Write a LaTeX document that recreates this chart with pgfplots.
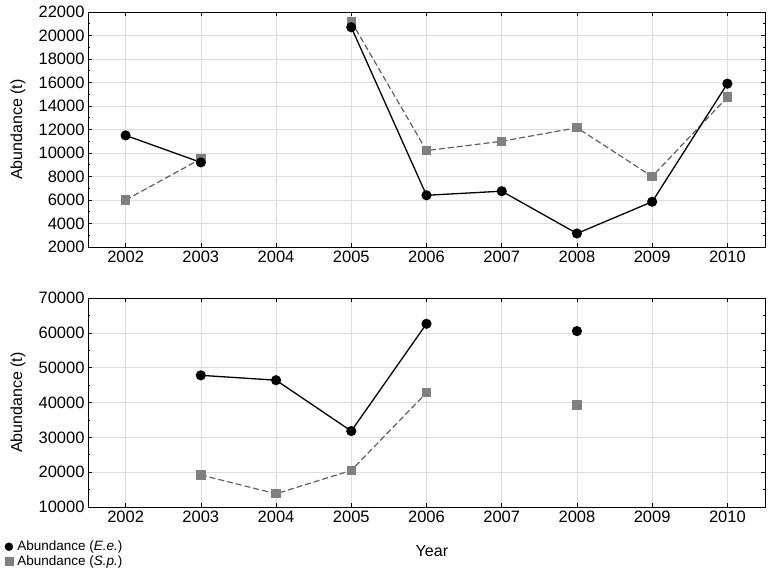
\documentclass[border=0pt]{standalone}
\usepackage{fontspec}
\setmainfont{Liberation Sans}
\usepackage{pgfplots}
\pgfplotsset{compat=1.18}
\definecolor{spmark}{RGB}{128,128,128}
\definecolor{spline}{RGB}{95,95,95}
\begin{document}
\begin{tikzpicture}
\pgfplotsset{
  myaxis/.style={
    scale only axis, width=677pt,
    xmin=2001.5, xmax=2010.5,
    xtick={2002,2003,...,2010},
    minor x tick num=3, minor y tick num=1,
    tick pos=both, tick align=inside,
    major tick length=4pt, minor tick length=2.2pt,
    every tick/.style={black, line width=0.6pt},
    grid=major, major grid style={draw=black!13, line width=0.6pt},
    axis line style={black, line width=0.9pt},
    /pgf/number format/1000 sep={},
    /pgf/number format/assume math mode=true,
    scaled y ticks=false,
    tick label style={font=\fontsize{16.5}{19}\selectfont},
    label style={font=\fontsize{16}{19}\selectfont},
    ylabel={Abundance (t)},
    ylabel style={at={(axis description cs:-0.1034,0.5)}, anchor=center},
    unbounded coords=jump,
  },
  ee/.style={black, solid, line width=1.3pt, mark=*, mark size=4.4pt, mark options={fill=black, solid}},
  sp/.style={spline, line width=1.2pt, dash pattern=on 6pt off 3pt, mark=square*, mark size=4.1pt, mark options={fill=spmark, draw=spmark, solid}},
}
\begin{axis}[myaxis, height=235pt, ymin=2000, ymax=22000, ytick={2000,4000,...,22000}]
\addplot[sp] coordinates {(2002,6000) (2003,9500) (2004,nan) (2005,21200) (2006,10200) (2007,11000) (2008,12150) (2009,8000) (2010,14750)};
\addplot[ee] coordinates {(2002,11500) (2003,9200) (2004,nan) (2005,20700) (2006,6400) (2007,6750) (2008,3150) (2009,5850) (2010,15900)};
\end{axis}
\begin{axis}[myaxis, at={(0,-260pt)}, height=209pt, ymin=10000, ymax=70000, ytick={10000,20000,...,70000},
  xlabel={Year},
  xlabel style={at={(axis description cs:0.508,-0.2105)}, anchor=center},
  legend style={draw=none, fill=none, at={(-0.123,-0.155)}, anchor=north west,
    font=\fontsize{13.5}{15}\selectfont, inner sep=0pt, row sep=0.5pt, column sep=3pt,
    nodes={inner sep=1.5pt}},
  legend cell align=left]
\addlegendimage{only marks, mark=*, mark size=4pt, black}
\addlegendentry{Abundance (\textit{E.e.})}
\addlegendimage{only marks, mark=square*, mark size=4pt, spmark}
\addlegendentry{Abundance (\textit{S.p.})}
\addplot[sp, forget plot] coordinates {(2003,19200) (2004,13800) (2005,20500) (2006,42800) (2007,nan) (2008,39300)};
\addplot[ee, forget plot] coordinates {(2003,47800) (2004,46400) (2005,31800) (2006,62600) (2007,nan) (2008,60500)};
\end{axis}
\pgfresetboundingbox
\path (-88pt,247pt) rectangle (684pt,-330pt);
\end{tikzpicture}
\end{document}
